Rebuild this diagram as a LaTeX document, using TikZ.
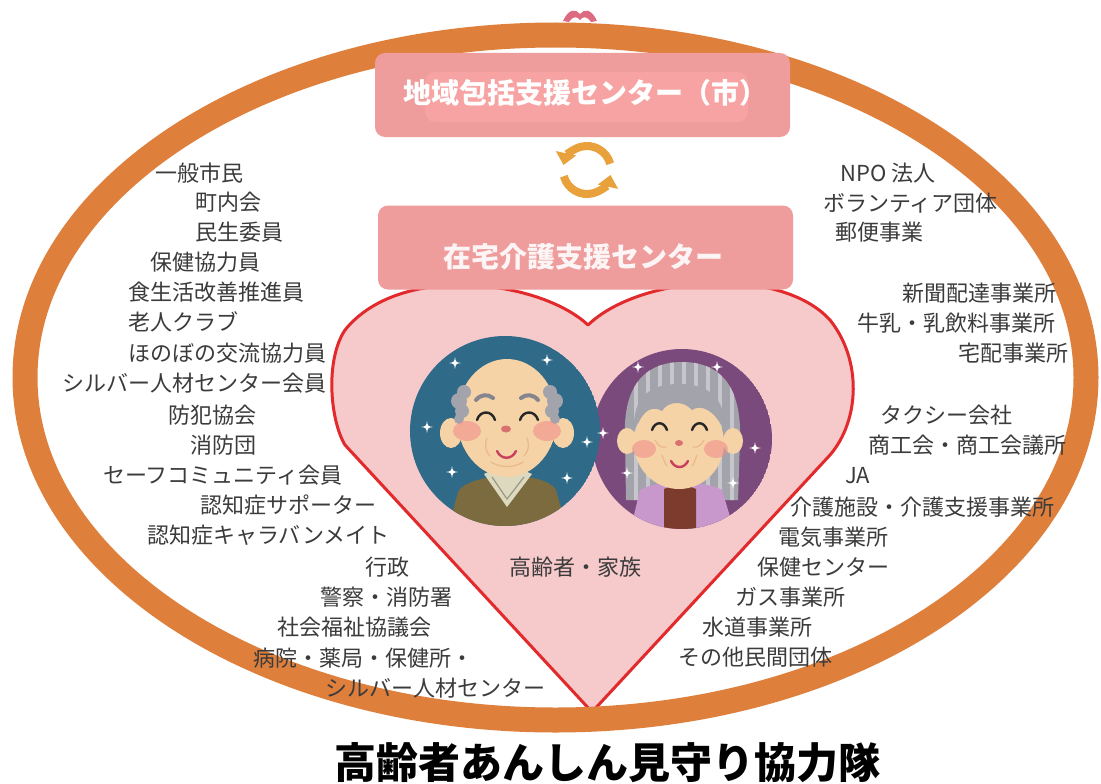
\documentclass[tikz,border=0pt]{standalone}
\usepackage{fontspec}
\setmainfont{Noto Sans CJK JP}
\usetikzlibrary{arrows.meta}

\definecolor{ringorange}{HTML}{DF7F3C}
\definecolor{boxpink}{HTML}{EF9C9C}
\definecolor{boxinner}{HTML}{F8A3A3}
\definecolor{heartfill}{HTML}{F6C9CB}
\definecolor{heartred}{HTML}{E2292B}
\definecolor{loopgold}{HTML}{E9A23B}
\definecolor{labelgray}{HTML}{3B3B3B}
\definecolor{bgteal}{HTML}{2F6A89}
\definecolor{bgpurple}{HTML}{7B4A7C}
\definecolor{skin}{HTML}{F6D3A6}
\definecolor{skindark}{HTML}{E9B98A}
\definecolor{hairgray}{HTML}{A3A3AB}
\definecolor{hairlight}{HTML}{C6C6CC}
\definecolor{hairdark}{HTML}{85858F}
\definecolor{coatolive}{HTML}{7B6B3F}
\definecolor{collar}{HTML}{DCD9BE}
\definecolor{shawl}{HTML}{C898CC}
\definecolor{sweater}{HTML}{7C3B2C}
\definecolor{blush}{HTML}{F08A8A}
\definecolor{nosered}{HTML}{D9716E}
\definecolor{mouthred}{HTML}{C8405E}
\definecolor{bowpink}{HTML}{DC6A80}

\tikzset{
  lbl/.style={anchor=west, inner sep=0pt, text=labelgray, font=\fontsize{22}{24}\selectfont},
  centerbox/.style={fill=boxpink, rounded corners=10pt, inner sep=0pt,
                    minimum width=415pt, minimum height=84pt},
  boxtext/.style={inner sep=0pt, font=\bfseries\fontsize{28}{30}\selectfont},
  loop/.style={loopgold, line width=8pt, -{Triangle[width=20pt,length=12pt]}},
  eye/.style={line width=2.4pt, line cap=round, black!85},
  brow/.style={line width=4pt, line cap=round, hairdark},
  wrinkle/.style={line width=1.2pt, line cap=round, skindark},
  mouth/.style={line width=2.4pt, line cap=round, mouthred},
  sparkle/.pic={\fill[white] (0,-6) .. controls (0.8,-0.8) .. (6,0) .. controls (0.8,0.8) .. (0,6)
                .. controls (-0.8,0.8) .. (-6,0) .. controls (-0.8,-0.8) .. (0,-6) -- cycle;}
}

\begin{document}
\begin{tikzpicture}[x=1pt,y=-1pt]
  \useasboundingbox (0,0) rectangle (1101,784);
  \fill[white] (0,0) rectangle (1101,784);

  % bow peeking over the ring
  \fill[bowpink] (563,21) .. controls (569,8) and (576,9) .. (580,14) .. controls (584,9) and (591,8) .. (597,21)
    -- (591,22) .. controls (587,16) and (583,16) .. (580,20) .. controls (577,16) and (573,16) .. (569,22) -- cycle;

  % heart
  \draw[heartred, line width=3pt, fill=heartfill, line join=round]
    (588,325) .. controls (540,280) and (400,262) .. (345,330)
    .. controls (325,360) and (330,420) .. (345,445) -- (592,712) -- (830,455)
    .. controls (860,420) and (862,360) .. (830,320)
    .. controls (780,265) and (640,275) .. (588,325) -- cycle;

  % outer ring
  \draw[ringorange, line width=25pt] (555.5,377.5) ellipse (530.5 and 342.5);

  % boxes
  \node[centerbox, path picture={
      \fill[boxinner] ([shift={(-157.5,-23)}]path picture bounding box.center)
        rectangle ([shift={(165.5,27)}]path picture bounding box.center);}]
    (houkatsu) at (582.5,95) {};
  \node[boxtext, text=white] (houkatsutxt) at (585,93) {地域包括支援センター（市）};

  \node[centerbox] (zaitaku) at (585.5,247.5) {};
  \node[boxtext, text=white!90!boxpink] (zaitakutxt) at (583,257) {在宅介護支援センター};

  % two-way loop
  \draw[loop] (587,170) ++(-15:24) arc[start angle=-15, end angle=-168, radius=24];
  \draw[loop] (587,170) ++(165:24) arc[start angle=165, end angle=12, radius=24];

  % grandmother
  \begin{scope}
    \clip (682,439) circle (90);
    \fill[bgpurple] (682,439) circle (90);
    \begin{scope}
      \clip (625,440) .. controls (622,380) and (650,362) .. (682,362) .. controls (715,362) and (742,380) .. (740,440)
        -- (738,500) -- (626,500) -- cycle;
      \fill[hairgray] (620,355) rectangle (745,505);
      \foreach \sx in {636,648,...,732}
        \draw[hairlight, line width=3.5pt] (\sx,360) -- (\sx,505);
    \end{scope}
    \fill[skin] (667,470) rectangle (693,492);
    \fill[shawl] (628,540) -- (640,490) .. controls (655,480) and (705,480) .. (722,490) -- (737,540) -- cycle;
    \fill[sweater] (664,540) -- (664,489) .. controls (675,484) and (685,484) .. (696,489) -- (696,540) -- cycle;
  \end{scope}
  \fill[skin] (627,441) ellipse (10 and 13);
  \fill[skin] (733,441) ellipse (10 and 13);
  \fill[skin] (679,443) ellipse (45 and 46);
  \fill[hairgray] (634,432) .. controls (632,395) and (652,384) .. (679,384) .. controls (706,384) and (726,395) .. (725,432)
    .. controls (716,412) and (702,403) .. (692,410) .. controls (683,400) and (668,401) .. (662,411)
    .. controls (650,404) and (640,414) .. (634,432) -- cycle;
  \fill[blush, opacity=.55] (644,449) ellipse (12 and 9);
  \fill[blush, opacity=.55] (716,449) ellipse (12 and 9);
  \draw[eye] (652,430) .. controls (655,421) and (664,421) .. (667,430);
  \draw[eye] (692,430) .. controls (695,421) and (704,421) .. (707,430);
  \draw[wrinkle] (655,440) .. controls (658,446) and (662,448) .. (666,447);
  \draw[wrinkle] (704,440) .. controls (701,446) and (697,448) .. (693,447);
  \draw[wrinkle] (662,455) .. controls (664,460) and (665,464) .. (667,466);
  \draw[wrinkle] (697,455) .. controls (695,460) and (694,464) .. (692,466);
  \fill[nosered] (679,443) ellipse (4 and 3);
  \draw[mouth] (671,461) .. controls (675,469) and (684,469) .. (688,461);

  % grandfather
  \begin{scope}
    \clip (505,431) circle (95);
    \fill[bgteal] (505,431) circle (95);
    \fill[coatolive] (445,540) -- (458,492) .. controls (468,472) and (545,470) .. (556,490) -- (570,540) -- cycle;
    \fill[collar] (484,474) -- (507,507) -- (532,474) .. controls (515,466) and (500,466) .. (484,474) -- cycle;
    \draw[collar!70!black, line width=1.2pt] (492,477) -- (507,499) -- (524,477);
  \end{scope}
  \fill[skin] (451,433) ellipse (11 and 15);
  \fill[skin] (563,433) ellipse (11 and 15);
  \fill[skin] (507,418) ellipse (50 and 59);
  \fill[hairgray] (464,392) circle (7) (459,401) circle (8) (462,411) circle (7) (459,419) circle (5);
  \fill[hairgray] (550,392) circle (7) (555,401) circle (8) (552,411) circle (7) (555,419) circle (5);
  \fill[blush, opacity=.55] (467,431) ellipse (14 and 10);
  \fill[blush, opacity=.55] (547,431) ellipse (14 and 10);
  \draw[brow] (476,400) .. controls (481,394) and (488,394) .. (493,398);
  \draw[brow] (521,398) .. controls (526,394) and (533,394) .. (538,400);
  \draw[eye] (477,420) .. controls (480,410) and (492,410) .. (495,420);
  \draw[eye] (520,420) .. controls (523,410) and (535,410) .. (538,420);
  \draw[wrinkle] (487,438) .. controls (484,446) and (486,452) .. (490,456);
  \draw[wrinkle] (527,438) .. controls (530,446) and (528,452) .. (524,456);
  \draw[wrinkle] (491,462) .. controls (500,468) and (514,468) .. (523,462);
  \fill[nosered] (506,429) ellipse (5 and 3.5);
  \draw[mouth] (497,451) .. controls (501,460) and (512,460) .. (516,451);

  \foreach \p in {(455,363),(547,360),(427,427),(452,472),(567,478),(587,442),
                  (638,367),(717,367),(603,433),(755,448),(627,473),(733,483)}
    \pic at \p {sparkle};

  % members, left side
  \foreach \txt/\lx/\ly [count=\i] in {
      一般市民/155/173, 町内会/195/202, 民生委員/195/232, 保健協力員/150/262,
      食生活改善推進員/128/292, 老人クラブ/128/322, ほのぼの交流協力員/128/353,
      シルバー人材センター会員/62/383, 防犯協会/168/415, 消防団/190/445,
      セーフコミュニティ会員/103/475, 認知症サポーター/200/505,
      認知症キャラバンメイト/147/535, 行政/365/567, 警察・消防署/320/597,
      社会福祉協議会/277/627, 病院・薬局・保健所・/253/658, シルバー人材センター/325/688}
    \node[lbl] (left\i) at (\lx,\ly) {\txt};

  % members, right side
  \foreach \txt/\lx/\ly [count=\i] in {
      NPO 法人/840/173, ボランティア団体/823/203, 郵便事業/835/232,
      新聞配達事業所/902/293, 牛乳・乳飲料事業所/857/323, 宅配事業所/958/353,
      タクシー会社/880/415, 商工会・商工会議所/868/445, JA/845/476,
      介護施設・介護支援事業所/790/507, 電気事業所/778/537, 保健センター/757/567,
      ガス事業所/735/597, 水道事業所/702/627, その他民間団体/678/657}
    \node[lbl] (right\i) at (\lx,\ly) {\txt};

  \node[lbl, anchor=center] (kazoku) at (575,567) {高齢者・家族};

  \node[inner sep=0pt, font=\bfseries\fontsize{42}{44}\selectfont] (title) at (607.5,763) {高齢者あんしん見守り協力隊};
\end{tikzpicture}
\end{document}
